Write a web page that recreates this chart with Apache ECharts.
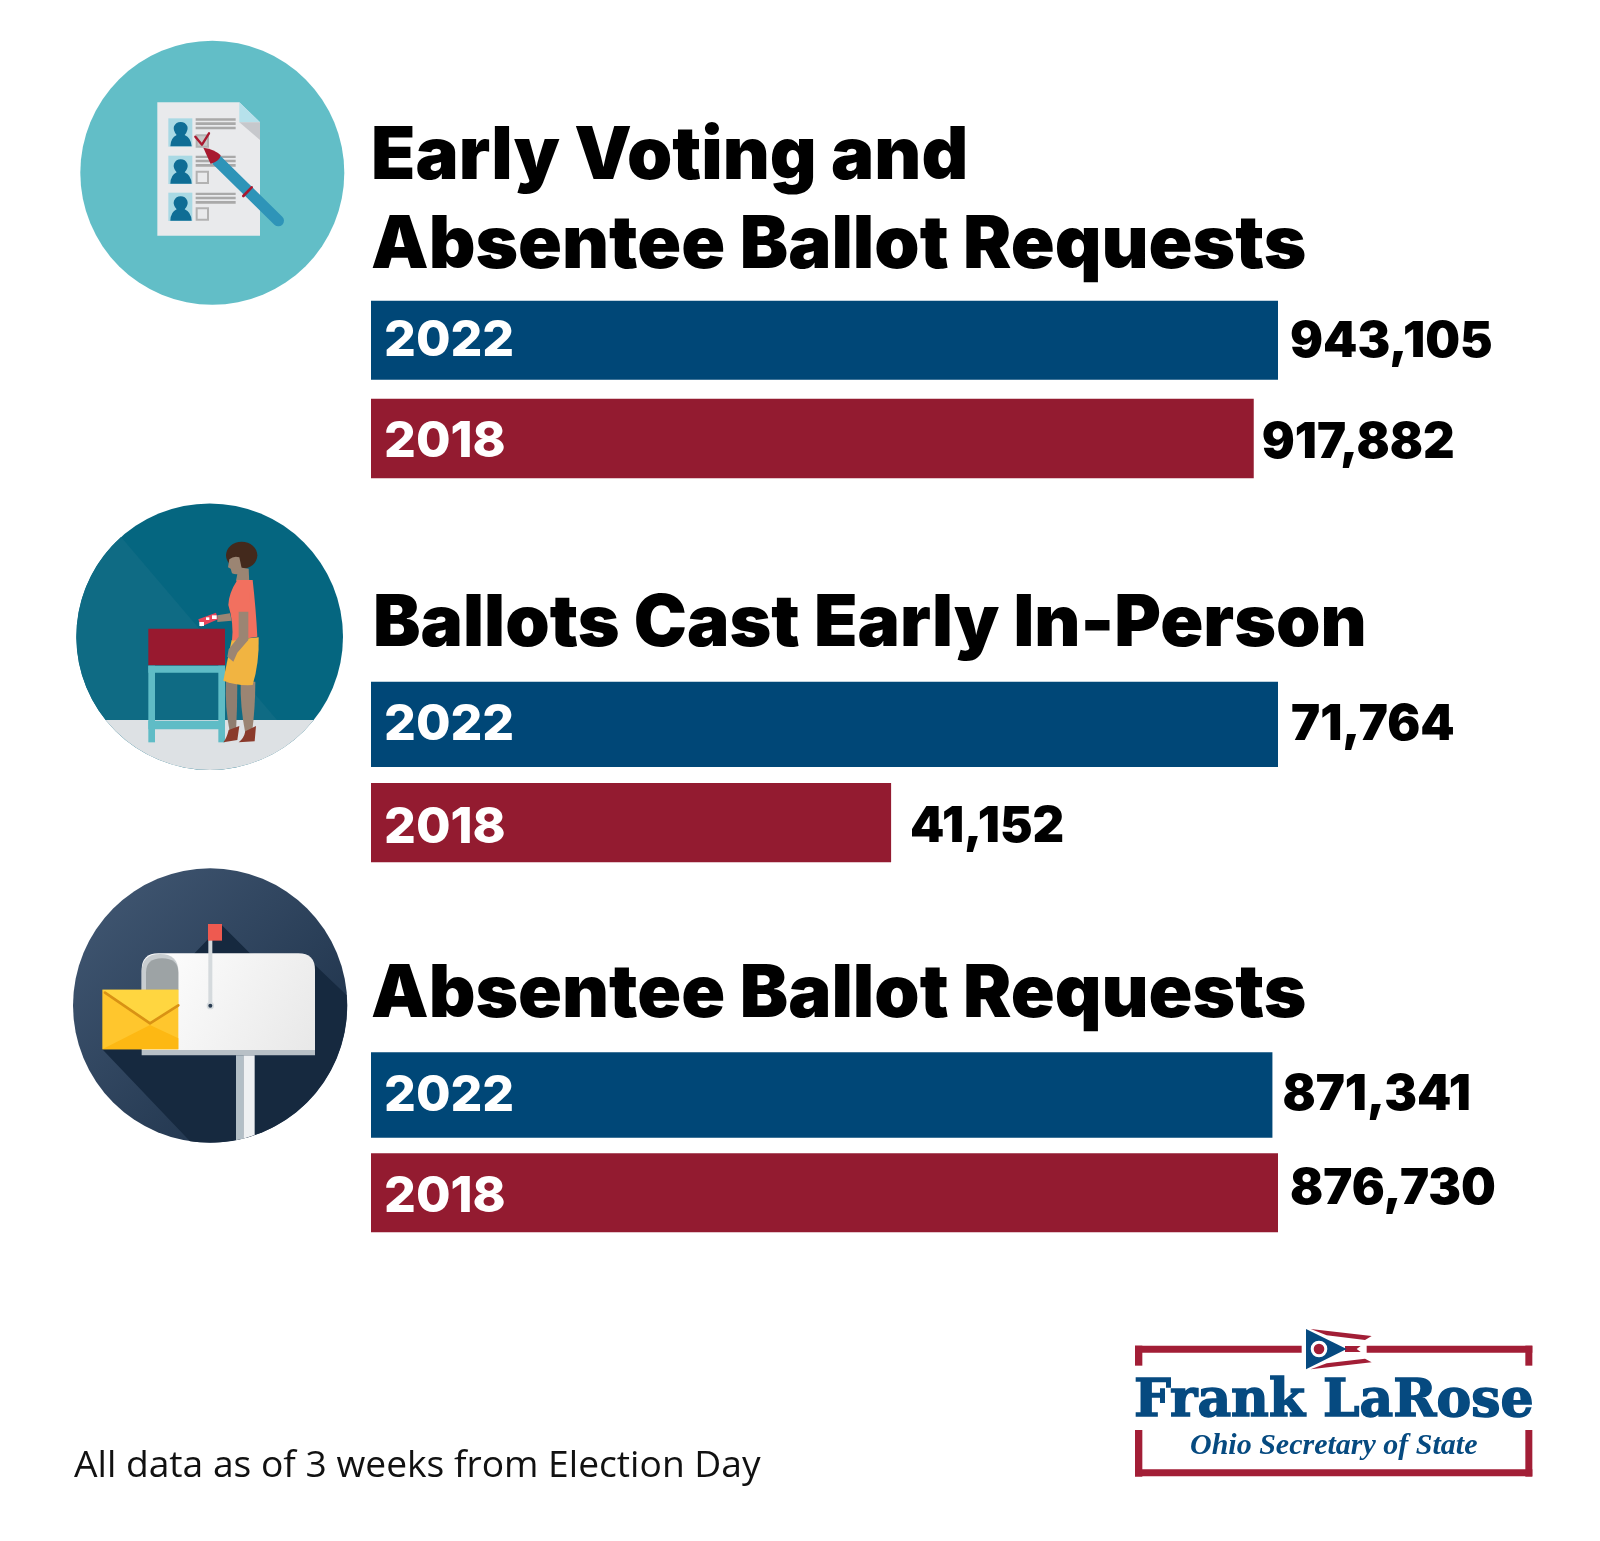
<!DOCTYPE html>
<html>
<head>
<meta charset="utf-8">
<title>Early Voting and Absentee Ballot Requests</title>
<script src="https://cdn.jsdelivr.net/npm/echarts@6/dist/echarts.min.js"></script>
<style>
  html, body { margin: 0; padding: 0; background: #fff; }
  #main { width: 1600px; height: 1541px; }
</style>
</head>
<body>
<div id="main"></div>
<script>
// data
var sectionTitles = ['Early Voting and\nAbsentee Ballot Requests', 'Ballots Cast Early In-Person', 'Absentee Ballot Requests'];
var years = ['2022', '2018'];
var values2022 = [943105, 71764, 871341];
var values2018 = [917882, 41152, 876730];
var footnote = 'All data as of 3 weeks from Election Day';

// layout, one row per bar: top, height, label distance, label y shift, year y shift
var barBoxes = [
  [[300.7, 79, 12, 2, 1], [398.7, 79.5, 8, 5, 4]],
  [[681.7, 85.3, 13, 1, 1], [783, 79.3, 19, 5, 5]],
  [[1052.3, 85.4, 10, 0, 1], [1153.3, 79, 12, -4, 4]]
];
// one row per title: left, top, font size
var titleBoxes = [[371, 113, 72.5], [373, 580, 71.2], [371, 951, 72.5]];
var BLUE = '#004777', RED = '#931b30';
var BOLD = 'Inter';

var grids = [], xAxes = [], yAxes = [], series = [];
sectionTitles.forEach(function (t, s) {
  var vals = [values2022[s], values2018[s]];
  var top = Math.max(vals[0], vals[1]);
  vals.forEach(function (v, i) {
    var box = barBoxes[s][i];
    var idx = grids.length;
    grids.push({ left: 371, width: 907, top: box[0], height: box[1], containLabel: false });
    xAxes.push({ type: 'value', gridIndex: idx, min: 0, max: top, show: false });
    yAxes.push({
      type: 'category', gridIndex: idx, data: [years[i]], z: 5,
      axisLine: { show: false }, axisTick: { show: false }, splitLine: { show: false },
      axisLabel: {
        inside: true, margin: 13,
        formatter: '{y|{value}}',
        rich: {
          y: {
            color: '#fff', fontFamily: BOLD, fontWeight: 800, fontSize: 50,
            padding: [box[4] * 2, 0, 0, 0]
          }
        }
      }
    });
    series.push({
      type: 'bar', xAxisIndex: idx, yAxisIndex: idx, barWidth: '100%', silent: true,
      itemStyle: { color: i === 0 ? BLUE : RED },
      data: [v],
      label: {
        show: true, position: 'right', distance: box[2], offset: [0, box[3]],
        color: '#000', fontFamily: BOLD, fontWeight: 900, fontSize: 49,
        formatter: function (p) { return p.value.toLocaleString('en-US'); }
      }
    });
  });
});

var titles = sectionTitles.map(function (t, s) {
  var b = titleBoxes[s];
  return {
    text: t, left: b[0], top: b[1], padding: 0,
    textStyle: { color: '#000', fontFamily: BOLD, fontWeight: 900, fontSize: b[2], lineHeight: 89 }
  };
});
titles.push({
  text: footnote, left: 74, top: 1443, padding: 0,
  textStyle: { color: '#111', fontFamily: 'Open Sans', fontWeight: 400, fontSize: 37.2, lineHeight: 46 }
});

// icon helpers: the graphic component has no plain path type, so each path is registered as a shape
var pathCount = 0;
function p(d, fill, extra) {
  var name = 'iconPath' + (pathCount++);
  echarts.graphic.registerShape(name, echarts.graphic.extendPath(d));
  var el = { type: name, style: { fill: fill } };
  if (extra) { for (var k in extra) el.style[k] = extra[k]; }
  return el;
}
function line(d, color, w) {
  return p(d, 'none', { stroke: color, lineWidth: w, lineCap: 'round', lineJoin: 'round' });
}
function rect(x, y, w, h, fill, r) {
  return { type: 'rect', shape: { x: x, y: y, width: w, height: h, r: r || 0 }, style: { fill: fill } };
}
function circle(cx, cy, r, fill) {
  return { type: 'circle', shape: { cx: cx, cy: cy, r: r }, style: { fill: fill } };
}
function linear(x, y, x2, y2, c0, c1) {
  return { type: 'linear', x: x, y: y, x2: x2, y2: y2, colorStops: [{ offset: 0, color: c0 }, { offset: 1, color: c1 }] };
}
function group3(x, y, children) {
  return { type: 'group', x: x, y: y, scaleX: 1 / 3, scaleY: 1 / 3, children: children };
}

// ballot paper icon
function person(y) {
  return [
    rect(85, y, 72, 85, '#a9d9e4'),
    p('M91 ' + (y + 84) + ' Q92 ' + (y + 58) + ' 110 ' + (y + 50) + ' Q98 ' + (y + 36) + ' 102 ' + (y + 24) +
      ' Q108 ' + (y + 11) + ' 122 ' + (y + 11) + ' Q136 ' + (y + 11) + ' 142 ' + (y + 24) + ' Q146 ' + (y + 36) + ' 134 ' + (y + 50) +
      ' Q153 ' + (y + 58) + ' 155 ' + (y + 84) + ' Z', '#0f6d95'),
    rect(167, y, 120, 7, '#a9a9a9'), rect(167, y + 12, 120, 8, '#a9a9a9'), rect(167, y + 25, 120, 8, '#a9a9a9')
  ];
}
function box(y, fill) {
  return { type: 'rect', shape: { x: 170, y: y, width: 34, height: 34 }, style: { fill: fill, stroke: '#b2b2b2', lineWidth: 6 } };
}
var ballotIcon = group3(140, 90, [].concat(
  [p('M52 37 L298 37 L360 97 L360 437 L52 437 Z', '#e9eaec'),
   p('M298 37 L360 97 L298 97 Z', '#b6e1eb'),
   p('M298 97 L360 97 L360 150 Z', '#c6c8cc')],
  person(85), person(197), person(308),
  [box(136, '#c9c9c9'), box(245, '#e9eaec'), box(355, '#e9eaec'),
   line('M166 140 L186 164 L207 130', '#a8192f', 7),
   line('M232 212 L415 392', '#2e94b8', 34),
   p('M190 173 Q225 178 242 196 Q240 213 212 222 Z', '#a8192f'),
   line('M310 318 L335 292', '#a8192f', 8)]
));

// ballot box icon
var voterIcon = group3(130, 530, [
  rect(55, 296, 230, 110, '#98192f'),
  rect(55, 407, 230, 21, '#5fbcc6'),
  rect(55, 407, 20, 230, '#5fbcc6'),
  rect(265, 407, 20, 230, '#5fbcc6'),
  rect(55, 572, 230, 26, '#5fbcc6'),
  // legs
  p('M288 455 L322 455 Q322 530 318 610 L300 610 Q284 530 288 455 Z', '#8f7e70'),
  p('M332 455 L376 455 Q376 530 366 610 L346 610 Q330 530 332 455 Z', '#9b8573'),
  p('M296 600 L328 588 L322 630 L280 637 Q290 625 296 600 Z', '#8a3a2b'),
  p('M346 604 L378 588 L374 634 L326 637 Q342 625 346 604 Z', '#8a3a2b'),
  // hair sits behind the face and neck
  { type: 'ellipse', shape: { cx: 335, cy: 76, rx: 47, ry: 41 }, style: { fill: '#43291c' } },
  p('M326 112 L356 116 L358 160 Q340 172 318 152 Z', '#9b8573'),
  p('M298 88 Q312 76 328 82 L338 128 Q320 136 306 130 L302 116 L294 112 Z', '#9b8573'),
  // skirt and top
  p('M305 330 L386 322 Q388 400 368 465 Q320 468 280 452 Q290 400 305 330 Z', '#f1b441'),
  p('M322 150 L368 150 Q378 240 382 320 L306 332 Q312 280 295 225 Q296 190 322 150 Z', '#f2705f'),
  // arm, hand
  p('M326 240 L355 240 L355 330 L322 368 L310 395 L292 380 L296 358 L326 320 Z', '#9b8573'),
  p('M262 256 L300 250 L305 272 L262 276 Z', '#9b8573'),
  p('M320 188 L358 188 L362 245 L320 245 Z', '#f2705f'),
  // ballot in hand
  p('M205 268 L258 248 L264 268 L212 290 Z', '#e8455a'),
  rect(208, 276, 14, 12, '#fff'), rect(228, 262, 10, 8, '#fff'), rect(246, 256, 14, 11, '#fff')
]);

// mailbox icon
var mailIcon = group3(0, 850, [
  circle(630.5, 466.5, 411.5, linear(0.1, 0.1, 0.9, 0.9, '#3f5570', '#1c3048')),
  p('M665 225 L750 310 L945 345 L1040 436 A411.5 411.5 0 0 1 570 873.5 L307 598 Z', '#16293f'),
  p('M708 616 L730 616 L730 866 L708 871 Z', '#b2bec6'),
  p('M730 616 L764 616 L764 855 L730 866 Z', '#eef0f2'),
  p('M475 310 L895 310 Q945 310 945 360 L945 600 L425 600 L425 360 Q425 310 475 310 Z', linear(0, 0, 1, 1, '#ffffff', '#e8e8e8')),
  rect(425, 600, 520, 16, '#b8c0c6'),
  p('M425 420 L425 365 Q425 312 480 312 Q535 312 535 365 L535 420 Z', '#c8cdd0'),
  p('M438 420 L438 368 Q438 325 486 325 Q535 325 535 368 L535 420 Z', '#9da3a5'),
  rect(625, 265, 12, 205, '#d5dadd'),
  rect(624, 222, 42, 50, '#ee5a50'),
  circle(631, 467, 11, '#d5dadd'),
  circle(631, 467, 6, '#2b3d52'),
  rect(307, 419, 228, 179, '#ffc62d'),
  p('M307 598 L450 525 L535 565 L535 598 Z', '#fdb813'),
  p('M307 419 L535 419 L535 465 L450 518 Z', '#ffd640'),
  line('M315 428 L450 520 L535 466', '#d99214', 8)
]);

// logo
var logoMarks = group3(1100, 1310, [
  rect(105, 107, 500, 21, '#a21e36'),
  rect(800, 107, 497, 21, '#a21e36'),
  rect(105, 107, 22, 60, '#a21e36'),
  rect(1276, 107, 21, 60, '#a21e36'),
  rect(105, 360, 22, 140, '#a21e36'),
  rect(1276, 360, 21, 140, '#a21e36'),
  rect(105, 478, 1192, 21, '#a21e36'),
  p('M632 57 L815 78 L795 90 L680 76 Z', '#a21e36'),
  p('M632 178 L815 157 L795 146 L680 160 Z', '#a21e36'),
  p('M735 108 L782 108 L770 117 L782 126 L735 126 Z', '#a21e36'),
  p('M618 57 L740 117 L618 178 Z', '#064a80'),
  circle(657, 117, 25, '#fff'),
  circle(657, 117, 16, '#a21e36')
]);

var graphic = [
  // circles
  circle(212.3, 172.8, 132, '#62bec7'),
  ballotIcon,
  circle(209.7, 636.7, 133.3, '#056680'),
  p('M121 537 L277 720 L105.6 720 A133.3 133.3 0 0 1 121 537 Z', '#0f6b84'),
  p('M105.6 720 L313.8 720 A133.3 133.3 0 0 1 105.6 720 Z', '#dde1e4'),
  voterIcon,
  mailIcon,
  logoMarks,
  { type: 'text', x: 1134, y: 1402, style: { text: 'Frank LaRose', fill: '#064a80', stroke: '#064a80', lineWidth: 1.5, font: '900 52px "DejaVu Serif"', textVerticalAlign: 'middle' } },
  { type: 'text', x: 1190, y: 1446, style: { text: 'Ohio Secretary of State', fill: '#064a80', font: 'italic 700 30px "Liberation Serif"', textVerticalAlign: 'middle' } }
];

var chart = echarts.init(document.getElementById('main'));
chart.setOption({
  backgroundColor: '#fff',
  animation: false,
  tooltip: { show: false },
  title: titles,
  grid: grids,
  xAxis: xAxes,
  yAxis: yAxes,
  series: series,
  graphic: graphic
});
</script>
</body>
</html>
